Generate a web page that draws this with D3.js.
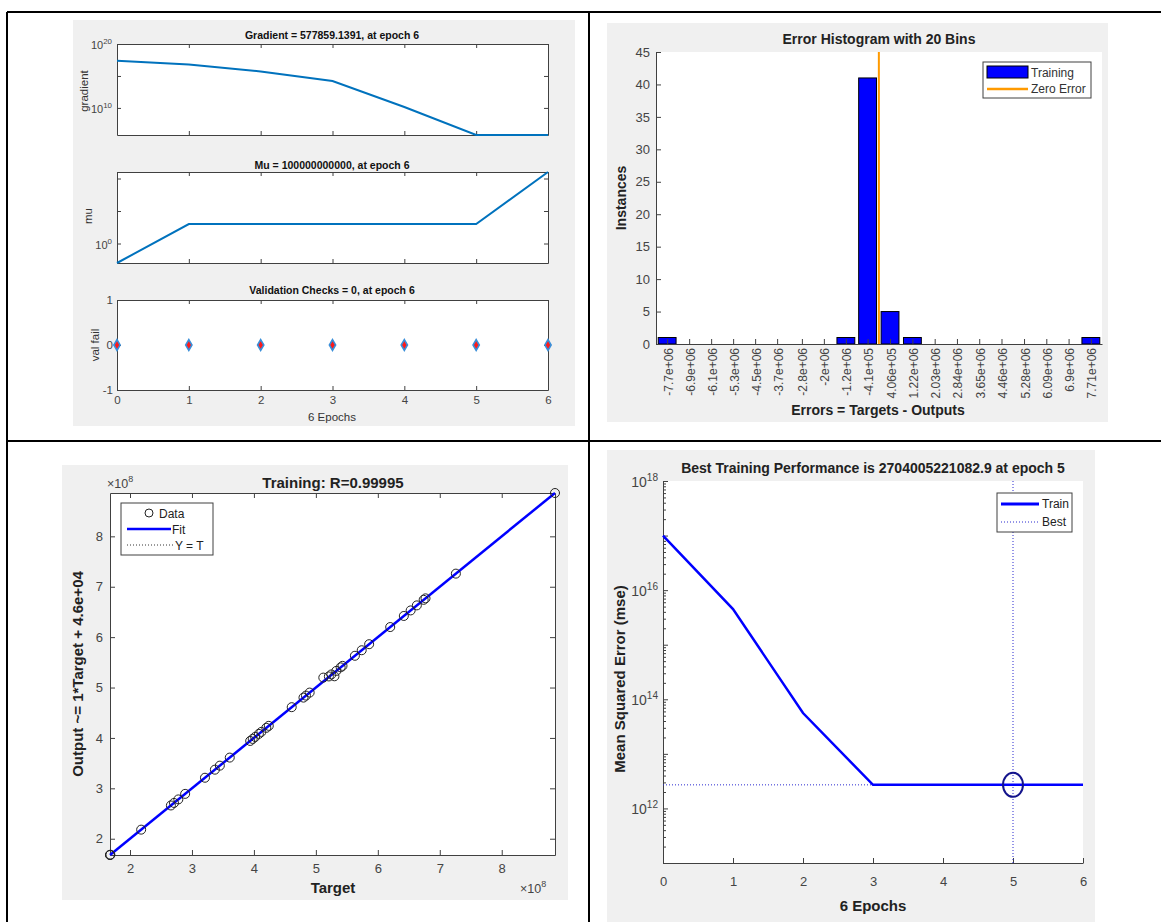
<!DOCTYPE html>
<html>
<head>
<meta charset="utf-8">
<script src="https://cdn.jsdelivr.net/npm/d3@7"></script>
<style>
  body { margin: 0; background: #fff; }
  svg { display: block; font-family: "Liberation Sans", Arial, Helvetica, sans-serif; }
</style>
</head>
<body>
<div id="fig"></div>
<script>
/* nntraintool style figure: training state, error histogram, regression, performance */

// training state (top-left)
const EPOCHS   = [0, 1, 2, 3, 4, 5, 6];
const GRADIENT = [2.5e17, 6.3e16, 5.0e15, 1.6e14, 1.4e10, 577859.1391, 577859.1391];
const MU       = [1e-3, 1e3, 1e3, 1e3, 1e3, 1e3, 1e11];
const VAL_FAIL = [0, 0, 0, 0, 0, 0, 0];

// error histogram (top-right)
const BIN_LABELS = ["-7.7e+06", "-6.9e+06", "-6.1e+06", "-5.3e+06", "-4.5e+06", "-3.7e+06", "-2.8e+06",
                    "-2e+06", "-1.2e+06", "-4.1e+05", "4.06e+05", "1.22e+06", "2.03e+06", "2.84e+06",
                    "3.65e+06", "4.46e+06", "5.28e+06", "6.09e+06", "6.9e+06", "7.71e+06"];
const BIN_COUNTS = [1, 0, 0, 0, 0, 0, 0, 0, 1, 41, 5, 1, 0, 0, 0, 0, 0, 0, 0, 1];
const ZERO_ERROR = 0;

// regression (bottom-left), values in raw units
const TARGETS = [1.677e8, 1.677e8, 1.683e8, 2.18e8, 2.66e8, 2.71e8, 2.78e8, 2.89e8, 3.21e8, 3.37e8,
                 3.45e8, 3.61e8, 3.94e8, 3.98e8, 4.02e8, 4.08e8, 4.12e8, 4.20e8, 4.24e8, 4.61e8,
                 4.80e8, 4.84e8, 4.90e8, 5.12e8, 5.21e8, 5.25e8, 5.30e8, 5.33e8, 5.40e8, 5.43e8,
                 5.63e8, 5.74e8, 5.86e8, 6.20e8, 6.42e8, 6.53e8, 6.63e8, 6.74e8, 6.77e8, 7.26e8, 8.86e8];
const OUTPUTS = [1.677e8, 1.678e8, 1.683e8, 2.18e8, 2.66e8, 2.71e8, 2.78e8, 2.89e8, 3.21e8, 3.37e8,
                 3.45e8, 3.61e8, 3.94e8, 3.98e8, 4.02e8, 4.08e8, 4.12e8, 4.20e8, 4.24e8, 4.61e8,
                 4.80e8, 4.84e8, 4.90e8, 5.197e8, 5.22e8, 5.26e8, 5.223e8, 5.33e8, 5.40e8, 5.43e8,
                 5.63e8, 5.74e8, 5.86e8, 6.20e8, 6.42e8, 6.53e8, 6.63e8, 6.74e8, 6.77e8, 7.26e8, 8.86e8];
const FIT_SLOPE = 1, FIT_OFFSET = 4.6e4;

// performance (bottom-right)
const PERF_TRAIN = [1.0e17, 4.5e15, 5.6e13, 2.7045e12, 2.7041e12, 2704005221082.9, 2.7040e12];
const BEST_EPOCH = 5;
const BEST_PERF  = 2704005221082.9;

const W = 1161, H = 922;
const BG = "#f0f0f0", AXC = "#404040", TICKC = "#444";

const svg = d3.select("#fig").append("svg").attr("width", W).attr("height", H);

// small helpers
function styleAxis(sel){
  sel.select(".domain").attr("stroke", AXC);
  sel.selectAll(".tick line").attr("stroke", AXC);
  sel.selectAll(".tick text").attr("fill", TICKC).attr("font-family", null);
  return sel;
}
function powText(g, x, y, exp, size, anchor, prefix){
  const t = g.append("text").attr("x", x).attr("y", y).attr("font-size", size)
      .attr("fill", TICKC).attr("text-anchor", anchor || "end");
  t.append("tspan").text((prefix || "") + "10");
  t.append("tspan").attr("dy", -size * 0.45).attr("font-size", size * 0.72).text(exp);
  return t;
}
function label(g, txt, x, y, size, opts){
  opts = opts || {};
  const t = g.append("text").attr("x", x).attr("y", y).attr("font-size", size)
      .attr("text-anchor", "middle").attr("fill", opts.fill || "#111")
      .attr("font-weight", opts.bold ? "bold" : null).text(txt);
  if (opts.rotate) t.attr("transform", `rotate(-90,${x},${y})`);
  return t;
}

// ---------- TOP-LEFT: training state ----------
function drawTrainState(){
  const g = svg.append("g");
  g.append("rect").attr("x", 73).attr("y", 20).attr("width", 502).attr("height", 406).attr("fill", BG);
  const x = d3.scaleLinear().domain([0, 6]).range([117, 548]);
  const line = (y) => d3.line().x((d, i) => x(EPOCHS[i])).y(d => y(d));

  function frame(y, top, bottom, yTicks, showX){
    g.append("rect").attr("x", 117).attr("y", top).attr("width", 431).attr("height", bottom - top)
        .attr("fill", "#fff");
    const mk = (ax, tr) => styleAxis(g.append("g").attr("transform", tr).call(ax)).selectAll("text").attr("font-size", 11.5);
    mk(d3.axisTop(x).tickValues(EPOCHS).tickSizeInner(-4).tickSizeOuter(0).tickFormat(""), `translate(0,${top})`);
    mk(d3.axisBottom(x).tickValues(EPOCHS).tickSizeInner(-4).tickSizeOuter(0)
        .tickFormat(showX ? d3.format("d") : "").tickPadding(6), `translate(0,${bottom})`);
    mk(d3.axisLeft(y).tickValues(yTicks).tickSizeInner(-4).tickSizeOuter(0).tickFormat(""), `translate(117,0)`);
    mk(d3.axisRight(y).tickValues(yTicks).tickSizeInner(-4).tickSizeOuter(0).tickFormat(""), `translate(548,0)`);
  }

  // gradient
  const yG = d3.scaleLog().domain([577859.1391, 1e20]).range([135, 44]);
  frame(yG, 44, 135, [1e10, 1e15, 1e20], false);
  powText(g, 112, yG(1e20) + 5, "20", 11);
  powText(g, 112, yG(1e10) + 5, "10", 11);
  label(g, "Gradient = 577859.1391, at epoch 6", 332, 39, 10.5, {bold: true});
  label(g, "gradient", 88, 91, 11.5, {rotate: true, fill: "#333"});
  g.append("path").datum(GRADIENT).attr("d", line(yG)).attr("fill", "none")
      .attr("stroke", "#0072BD").attr("stroke-width", 2);

  // mu
  const yM = d3.scaleLog().domain([1e-3, 1e11]).range([263, 172]);
  frame(yM, 172, 263, [1e0, 1e5, 1e10], false);
  powText(g, 112, yM(1) + 5, "0", 11);
  label(g, "Mu = 100000000000, at epoch 6", 332, 169, 10.5, {bold: true});
  label(g, "mu", 92, 216, 11.5, {rotate: true, fill: "#333"});
  g.append("path").datum(MU).attr("d", line(yM)).attr("fill", "none")
      .attr("stroke", "#0072BD").attr("stroke-width", 2);

  // validation checks
  const yV = d3.scaleLinear().domain([-1, 1]).range([390, 300]);
  frame(yV, 300, 390, [-1, 0, 1], true);
  [-1, 0, 1].forEach(v => g.append("text").attr("x", 113).attr("y", yV(v) + 4).attr("font-size", 11.5)
      .attr("text-anchor", "end").attr("fill", TICKC).text(v));
  label(g, "Validation Checks = 0, at epoch 6", 332, 294, 10.5, {bold: true});
  label(g, "val fail", 99, 345, 11.5, {rotate: true, fill: "#333"});
  label(g, "6 Epochs", 332, 421, 11.5, {fill: "#333"});
  g.selectAll(".vf").data(VAL_FAIL).join("path")
      .attr("transform", (d, i) => `translate(${x(EPOCHS[i])},${yV(d)})`)
      .attr("d", d3.symbol(d3.symbolDiamond, 34))
      .attr("fill", "#ff1a1a").attr("stroke", "#3a8fd9").attr("stroke-width", 1.6);
}

// ---------- TOP-RIGHT: error histogram ----------
function drawHistogram(){
  const g = svg.append("g");
  g.append("rect").attr("x", 607).attr("y", 23).attr("width", 501).attr("height", 399).attr("fill", BG);
  g.append("rect").attr("x", 656).attr("y", 52).attr("width", 446).attr("height", 292).attr("fill", "#fff");

  const centers = BIN_LABELS.map(Number);
  const binW = (centers[centers.length - 1] - centers[0]) / (centers.length - 1);
  const x = d3.scaleLinear().domain([centers[0] - binW / 2, centers[centers.length - 1] + binW / 2]).range([656, 1102]);
  const y = d3.scaleLinear().domain([0, 45]).range([344, 52]);
  const bw = (x(binW) - x(0)) * 0.8;

  g.selectAll(".bar").data(BIN_COUNTS.map((c, i) => ({c, x: centers[i]})).filter(d => d.c > 0))
    .join("rect")
      .attr("x", d => x(d.x) - bw / 2).attr("y", d => y(d.c))
      .attr("width", bw).attr("height", d => y(0) - y(d.c))
      .attr("fill", "#0000ff").attr("stroke", "#000").attr("stroke-width", 1);

  g.append("line").attr("x1", x(ZERO_ERROR)).attr("x2", x(ZERO_ERROR)).attr("y1", 52).attr("y2", 344)
      .attr("stroke", "#ff9a00").attr("stroke-width", 2);

  const ya = styleAxis(g.append("g").attr("transform", "translate(656,0)")
      .call(d3.axisLeft(y).tickValues(d3.range(0, 46, 5)).tickSizeInner(-5).tickSizeOuter(0).tickPadding(6)));
  ya.selectAll("text").attr("font-size", 13);

  const xa = styleAxis(g.append("g").attr("transform", "translate(0,344)")
      .call(d3.axisBottom(x).tickValues(centers).tickFormat((d, i) => BIN_LABELS[i])
        .tickSizeInner(-5).tickSizeOuter(0)));
  xa.selectAll("text").attr("font-size", 12).attr("transform", "rotate(-90)")
      .attr("text-anchor", "end").attr("x", -4).attr("y", 0).attr("dy", "0.42em");

  label(g, "Error Histogram with 20 Bins", 879, 44, 14, {bold: true, fill: "#222"});
  label(g, "Errors = Targets - Outputs", 878, 415, 14, {bold: true, fill: "#222"});
  label(g, "Instances", 626, 198, 14, {bold: true, rotate: true, fill: "#222"});

  // legend
  const lg = g.append("g");
  lg.append("rect").attr("x", 983).attr("y", 62).attr("width", 108).attr("height", 36)
      .attr("fill", "#fff").attr("stroke", AXC);
  lg.append("rect").attr("x", 987).attr("y", 66).attr("width", 41).attr("height", 12)
      .attr("fill", "#0000ff").attr("stroke", "#000");
  lg.append("line").attr("x1", 987).attr("x2", 1028).attr("y1", 89).attr("y2", 89)
      .attr("stroke", "#ff9a00").attr("stroke-width", 2.5);
  lg.append("text").attr("x", 1031).attr("y", 77).attr("font-size", 12).attr("fill", "#333").text("Training");
  lg.append("text").attr("x", 1031).attr("y", 93).attr("font-size", 12).attr("fill", "#333").text("Zero Error");
}

// ---------- BOTTOM-LEFT: regression ----------
function drawRegression(){
  const g = svg.append("g");
  g.append("rect").attr("x", 62).attr("y", 465).attr("width", 506).attr("height", 435).attr("fill", BG);
  g.append("rect").attr("x", 110).attr("y", 493).attr("width", 445).attr("height", 362).attr("fill", "#fff");

  const lim = d3.extent(TARGETS.concat(OUTPUTS));
  const x = d3.scaleLinear().domain(lim).range([110, 555]);
  const y = d3.scaleLinear().domain(lim).range([855, 493]);
  const ticks = [2, 3, 4, 5, 6, 7, 8].map(d => d * 1e8);
  const fmt = d => d / 1e8;

  styleAxis(g.append("g").attr("transform", "translate(0,855)")
      .call(d3.axisBottom(x).tickValues(ticks).tickFormat(fmt).tickSizeInner(-5).tickSizeOuter(0).tickPadding(9)))
      .selectAll("text").attr("font-size", 13);
  styleAxis(g.append("g").attr("transform", "translate(0,493)")
      .call(d3.axisTop(x).tickValues(ticks).tickFormat("").tickSizeInner(-5).tickSizeOuter(0)));
  styleAxis(g.append("g").attr("transform", "translate(110,0)")
      .call(d3.axisLeft(y).tickValues(ticks).tickFormat(fmt).tickSizeInner(-5).tickSizeOuter(0).tickPadding(7)))
      .selectAll("text").attr("font-size", 13);
  styleAxis(g.append("g").attr("transform", "translate(555,0)")
      .call(d3.axisRight(y).tickValues(ticks).tickFormat("").tickSizeInner(-5).tickSizeOuter(0)));

  // Y = T dotted, then fit, then data
  g.append("line").attr("x1", x(lim[0])).attr("y1", y(lim[0])).attr("x2", x(lim[1])).attr("y2", y(lim[1]))
      .attr("stroke", "#000").attr("stroke-width", 0.8).attr("stroke-dasharray", "1,2");
  const tExt = d3.extent(TARGETS);
  g.append("line")
      .attr("x1", x(tExt[0])).attr("y1", y(FIT_SLOPE * tExt[0] + FIT_OFFSET))
      .attr("x2", x(tExt[1])).attr("y2", y(FIT_SLOPE * tExt[1] + FIT_OFFSET))
      .attr("stroke", "#0000ff").attr("stroke-width", 2.5);
  g.selectAll(".pt").data(TARGETS).join("circle")
      .attr("cx", d => x(d)).attr("cy", (d, i) => y(OUTPUTS[i])).attr("r", 4.5)
      .attr("fill", "none").attr("stroke", "#222").attr("stroke-width", 1);

  label(g, "Training: R=0.99995", 333, 488, 15, {bold: true, fill: "#222"});
  label(g, "Target", 333, 893, 15, {bold: true, fill: "#222"});
  label(g, "Output ~= 1*Target + 4.6e+04", 83, 674, 15, {bold: true, rotate: true, fill: "#222"});
  powText(g, 107, 488, "8", 12.5, "start", "\u00d7");
  powText(g, 520, 893, "8", 12.5, "start", "\u00d7");

  // legend
  const lg = g.append("g");
  lg.append("rect").attr("x", 121).attr("y", 503).attr("width", 92).attr("height", 52)
      .attr("fill", "#fff").attr("stroke", AXC);
  lg.append("circle").attr("cx", 149).attr("cy", 513).attr("r", 4).attr("fill", "none").attr("stroke", "#222");
  lg.append("line").attr("x1", 127).attr("x2", 171).attr("y1", 529).attr("y2", 529)
      .attr("stroke", "#0000ff").attr("stroke-width", 2.5);
  lg.append("line").attr("x1", 127).attr("x2", 173).attr("y1", 545).attr("y2", 545)
      .attr("stroke", "#000").attr("stroke-width", 0.8).attr("stroke-dasharray", "1,2");
  lg.append("text").attr("x", 159).attr("y", 518).attr("font-size", 12).attr("fill", "#222").text("Data");
  lg.append("text").attr("x", 172).attr("y", 534).attr("font-size", 12).attr("fill", "#222").text("Fit");
  lg.append("text").attr("x", 175).attr("y", 550).attr("font-size", 12).attr("fill", "#222").text("Y = T");
}

// ---------- BOTTOM-RIGHT: performance ----------
function drawPerformance(){
  const g = svg.append("g");
  g.append("rect").attr("x", 607).attr("y", 450).attr("width", 488).attr("height", 472).attr("fill", BG);
  g.append("rect").attr("x", 663).attr("y", 481).attr("width", 420).attr("height", 382).attr("fill", "#fff");

  const x = d3.scaleLinear().domain([0, 6]).range([663, 1083]);
  const y = d3.scaleLog().domain([1e11, 1e18]).range([863, 481]);

  const decades = d3.range(11, 19).map(e => Math.pow(10, e));
  const minors = [];
  d3.range(11, 18).forEach(e => d3.range(2, 10).forEach(m => minors.push(m * Math.pow(10, e))));

  styleAxis(g.append("g").attr("transform", "translate(0,863)")
      .call(d3.axisBottom(x).tickValues(EPOCHS).tickFormat(d3.format("d")).tickSizeInner(-5).tickSizeOuter(0).tickPadding(14)))
      .selectAll("text").attr("font-size", 13);
  styleAxis(g.append("g").attr("transform", "translate(663,0)")
      .call(d3.axisLeft(y).tickValues(decades).tickFormat("").tickSizeInner(-5).tickSizeOuter(0)));
  styleAxis(g.append("g").attr("transform", "translate(663,0)")
      .call(d3.axisLeft(y).tickValues(minors).tickFormat("").tickSizeInner(-3).tickSizeOuter(0)));
  [12, 14, 16, 18].forEach(e => powText(g, 658, y(Math.pow(10, e)) + 6, String(e), 14));

  // best markers
  g.append("line").attr("x1", x(BEST_EPOCH)).attr("x2", x(BEST_EPOCH)).attr("y1", 481).attr("y2", 863)
      .attr("stroke", "#2a2ad0").attr("stroke-width", 1).attr("stroke-dasharray", "1,2");
  g.append("line").attr("x1", 663).attr("x2", 1083).attr("y1", y(BEST_PERF)).attr("y2", y(BEST_PERF))
      .attr("stroke", "#2a2ad0").attr("stroke-width", 1).attr("stroke-dasharray", "1,2");
  g.append("path").datum(PERF_TRAIN)
      .attr("d", d3.line().x((d, i) => x(EPOCHS[i])).y(d => y(d)))
      .attr("fill", "none").attr("stroke", "#0000ff").attr("stroke-width", 2.5);
  g.append("ellipse").attr("cx", x(BEST_EPOCH)).attr("cy", y(BEST_PERF)).attr("rx", 10).attr("ry", 12)
      .attr("fill", "none").attr("stroke", "#14148c").attr("stroke-width", 2);

  label(g, "Best Training Performance is 2704005221082.9 at epoch 5", 873, 473, 14, {bold: true, fill: "#222"});
  label(g, "6 Epochs", 873, 911, 15, {bold: true, fill: "#222"});
  label(g, "Mean Squared Error  (mse)", 625, 679, 15, {bold: true, rotate: true, fill: "#222"});

  // legend
  const lg = g.append("g");
  lg.append("rect").attr("x", 997).attr("y", 493).attr("width", 75).attr("height", 39)
      .attr("fill", "#fff").attr("stroke", AXC);
  lg.append("line").attr("x1", 1001).attr("x2", 1039).attr("y1", 504).attr("y2", 504)
      .attr("stroke", "#0000ff").attr("stroke-width", 3);
  lg.append("line").attr("x1", 1001).attr("x2", 1039).attr("y1", 522).attr("y2", 522)
      .attr("stroke", "#2a2ad0").attr("stroke-width", 1).attr("stroke-dasharray", "1,2");
  lg.append("text").attr("x", 1042).attr("y", 508).attr("font-size", 12).attr("fill", "#222").text("Train");
  lg.append("text").attr("x", 1042).attr("y", 526).attr("font-size", 12).attr("fill", "#222").text("Best");
}

drawTrainState();
drawHistogram();
drawRegression();
drawPerformance();

// table grid lines around the four panels
const grid = svg.append("g").attr("stroke", "#000").attr("stroke-width", 2);
grid.append("line").attr("x1", 7).attr("x2", W).attr("y1", 12).attr("y2", 12);
grid.append("line").attr("x1", 7).attr("x2", 7).attr("y1", 12).attr("y2", H);
grid.append("line").attr("x1", 589).attr("x2", 589).attr("y1", 12).attr("y2", H);
grid.append("line").attr("x1", 7).attr("x2", W).attr("y1", 441).attr("y2", 441);
</script>
</body>
</html>
